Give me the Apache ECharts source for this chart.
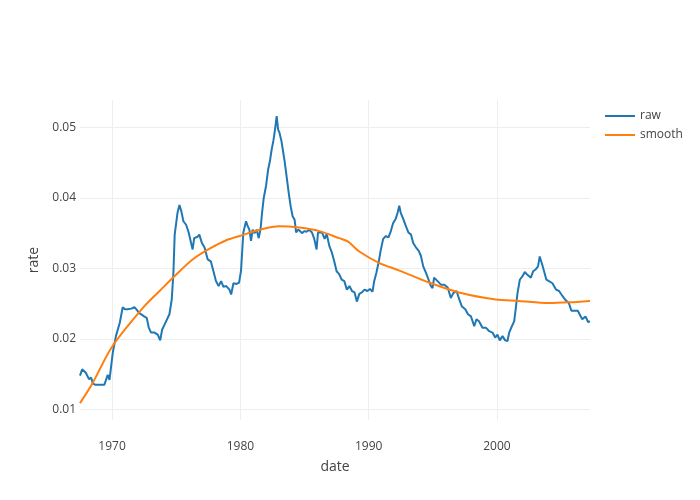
<!DOCTYPE html>
<html>
<head>
<meta charset="utf-8">
<script src="https://cdn.jsdelivr.net/npm/echarts@6/dist/echarts.min.js"></script>
<style>
  html, body { margin: 0; padding: 0; background: #fff; }
  #chart { width: 700px; height: 500px; }
</style>
</head>
<body>
<div id="chart"></div>
<script>
// unemployment rate, decimal year -> rate
var rawYear = [
  1967.50, 1967.67, 1967.95, 1968.20, 1968.37, 1968.50, 1968.70, 1969.00, 1969.40, 1969.66,
  1969.80, 1969.92, 1970.05, 1970.30, 1970.60, 1970.83, 1971.00, 1971.20, 1971.50, 1971.74,
  1971.90, 1972.10, 1972.50, 1972.70, 1972.86, 1973.04, 1973.30, 1973.56, 1973.75, 1973.90,
  1974.08, 1974.20, 1974.47, 1974.65, 1974.78, 1974.88, 1975.00, 1975.10, 1975.25, 1975.40,
  1975.56, 1975.77, 1975.97, 1976.16, 1976.28, 1976.40, 1976.67, 1976.80, 1977.00, 1977.20,
  1977.45, 1977.70, 1977.90, 1978.10, 1978.30, 1978.50, 1978.68, 1978.90, 1979.15, 1979.28,
  1979.46, 1979.70, 1979.90, 1980.05, 1980.23, 1980.44, 1980.57, 1980.70, 1980.83, 1980.96,
  1981.10, 1981.27, 1981.43, 1981.58, 1981.69, 1981.82, 1982.00, 1982.16, 1982.30, 1982.44,
  1982.57, 1982.70, 1982.83, 1982.94, 1983.04, 1983.20, 1983.35, 1983.45, 1983.60, 1983.77,
  1983.92, 1984.07, 1984.23, 1984.34, 1984.50, 1984.66, 1984.80, 1985.00, 1985.16, 1985.37,
  1985.58, 1985.76, 1985.94, 1986.05, 1986.20, 1986.37, 1986.57, 1986.73, 1986.93, 1987.14,
  1987.32, 1987.50, 1987.70, 1987.90, 1988.10, 1988.30, 1988.50, 1988.70, 1988.90, 1989.08,
  1989.27, 1989.47, 1989.68, 1989.90, 1990.10, 1990.30, 1990.43, 1990.60, 1990.77, 1990.95,
  1991.13, 1991.34, 1991.54, 1991.73, 1991.90, 1992.12, 1992.27, 1992.38, 1992.50, 1992.70,
  1992.90, 1993.10, 1993.30, 1993.47, 1993.68, 1993.90, 1994.07, 1994.25, 1994.46, 1994.67,
  1994.85, 1994.98, 1995.10, 1995.37, 1995.63, 1995.90, 1996.16, 1996.40, 1996.60, 1996.85,
  1997.06, 1997.27, 1997.53, 1997.74, 1997.97, 1998.23, 1998.40, 1998.60, 1998.87, 1999.13,
  1999.40, 1999.65, 1999.86, 2000.04, 2000.22, 2000.43, 2000.64, 2000.82, 2000.95, 2001.16,
  2001.34, 2001.47, 2001.60, 2001.78, 2001.99, 2002.17, 2002.37, 2002.64, 2002.82, 2003.03,
  2003.20, 2003.33, 2003.50, 2003.67, 2003.85, 2004.05, 2004.32, 2004.60, 2004.84, 2005.10,
  2005.30, 2005.60, 2005.80, 2006.10, 2006.30, 2006.50, 2006.65, 2006.90, 2007.10, 2007.25
];
var rawRate = [
  0.0148, 0.0157, 0.0152, 0.0143, 0.0145, 0.0137, 0.0135, 0.0135, 0.0135, 0.0149,
  0.0142, 0.0143, 0.0180, 0.0204, 0.0223, 0.0245, 0.0242, 0.0242, 0.0243, 0.0245,
  0.0242, 0.0237, 0.0232, 0.0230, 0.0216, 0.0209, 0.0209, 0.0206, 0.0198, 0.0213,
  0.0220, 0.0219, 0.0235, 0.0256, 0.0294, 0.0348, 0.0350, 0.0379, 0.0390, 0.0381,
  0.0367, 0.0362, 0.0351, 0.0336, 0.0327, 0.0343, 0.0345, 0.0348, 0.0336, 0.0330,
  0.0313, 0.0310, 0.0296, 0.0282, 0.0275, 0.0282, 0.0274, 0.0275, 0.0270, 0.0263,
  0.0279, 0.0278, 0.0280, 0.0297, 0.0351, 0.0367, 0.0360, 0.0355, 0.0339, 0.0355,
  0.0350, 0.0355, 0.0343, 0.0357, 0.0379, 0.0400, 0.0417, 0.0440, 0.0452, 0.0469,
  0.0481, 0.0497, 0.0516, 0.0497, 0.0493, 0.0481, 0.0479, 0.0452, 0.0431, 0.0407,
  0.0388, 0.0374, 0.0369, 0.0351, 0.0355, 0.0353, 0.0350, 0.0353, 0.0352, 0.0355,
  0.0351, 0.0342, 0.0327, 0.0351, 0.0353, 0.0351, 0.0342, 0.0349, 0.0332, 0.0322,
  0.0310, 0.0296, 0.0292, 0.0284, 0.0282, 0.0270, 0.0275, 0.0268, 0.0266, 0.0253,
  0.0264, 0.0266, 0.0270, 0.0268, 0.0271, 0.0267, 0.0282, 0.0294, 0.0308, 0.0327,
  0.0342, 0.0346, 0.0344, 0.0353, 0.0364, 0.0371, 0.0380, 0.0389, 0.0379, 0.0370,
  0.0360, 0.0351, 0.0348, 0.0336, 0.0330, 0.0325, 0.0318, 0.0303, 0.0294, 0.0284,
  0.0275, 0.0272, 0.0287, 0.0282, 0.0277, 0.0277, 0.0273, 0.0258, 0.0265, 0.0268,
  0.0256, 0.0246, 0.0242, 0.0235, 0.0232, 0.0218, 0.0228, 0.0225, 0.0216, 0.0216,
  0.0211, 0.0209, 0.0202, 0.0206, 0.0198, 0.0204, 0.0198, 0.0197, 0.0209, 0.0218,
  0.0225, 0.0244, 0.0265, 0.0284, 0.0289, 0.0295, 0.0291, 0.0287, 0.0296, 0.0299,
  0.0303, 0.0317, 0.0307, 0.0296, 0.0284, 0.0282, 0.0279, 0.0270, 0.0268, 0.0261,
  0.0256, 0.0251, 0.0240, 0.0240, 0.0240, 0.0233, 0.0228, 0.0232, 0.0224, 0.0225
];

var smoothYear = [
  1967.50, 1968.50, 1970.00, 1972.40, 1973.70, 1974.86, 1976.30, 1977.60, 1978.90, 1979.95,
  1981.50, 1983.04, 1984.60, 1986.16, 1987.70, 1988.40, 1989.27, 1990.80, 1992.40, 1994.70,
  1997.04, 1999.90, 2001.70, 2004.05, 2005.60, 2007.25
];
var smoothRate = [
  0.0109, 0.0138, 0.0189, 0.0244, 0.0268, 0.0289, 0.0313, 0.0328, 0.0340, 0.0346,
  0.0355, 0.0360, 0.0358, 0.0353, 0.0343, 0.0338, 0.0324, 0.0308, 0.0297, 0.0280,
  0.0266, 0.0256, 0.0254, 0.0251, 0.0252, 0.0254
];

var xTicks = [1970, 1980, 1990, 2000];
var yTicks = [0.01, 0.02, 0.03, 0.04, 0.05];

var chart = echarts.init(document.getElementById('chart'));

function zip(xs, ys) {
  return xs.map(function(x, i) { return [x, ys[i]]; });
}

chart.setOption({
  animation: false,
  textStyle: { fontFamily: 'Open Sans', color: '#444' },
  grid: { left: 80, right: 110, top: 100, bottom: 80, containLabel: false },
  legend: {
    orient: 'vertical',
    left: 600,
    top: 104,
    icon: 'rect',
    itemWidth: 30,
    itemHeight: 2,
    itemGap: 5,
    textStyle: { fontSize: 12, color: '#444', fontFamily: 'Open Sans', lineHeight: 14 },
    data: ['raw', 'smooth']
  },
  xAxis: {
    type: 'value',
    min: 1967.5,
    max: 2007.25,
    name: 'date',
    nameLocation: 'middle',
    nameGap: 40,
    nameTextStyle: { fontSize: 14, color: '#444' },
    axisLine: { show: false },
    axisTick: { show: false, customValues: xTicks },
    axisLabel: {
      customValues: xTicks,
      margin: 21,
      fontSize: 12,
      color: '#444',
      formatter: function(v) { return String(Math.round(v)) }
    },
    splitLine: { show: true, lineStyle: { color: '#eee', width: 1 } }
  },
  yAxis: {
    type: 'value',
    min: 0.0085,
    max: 0.0539,
    name: 'rate',
    nameLocation: 'middle',
    nameGap: 37,
    nameTextStyle: { fontSize: 14, color: '#444' },
    axisLine: { show: false },
    axisTick: { show: false, customValues: yTicks },
    axisLabel: {
      customValues: yTicks,
      margin: 4,
      fontSize: 12,
      color: '#444',
      formatter: function(v) { return v.toFixed(2) }
    },
    splitLine: { show: true, lineStyle: { color: '#eee', width: 1 } }
  },
  series: [
    {
      name: 'raw',
      type: 'line',
      symbol: 'none',
      data: zip(rawYear, rawRate),
      lineStyle: { color: '#1f77b4', width: 2 },
      itemStyle: { color: '#1f77b4' }
    },
    {
      name: 'smooth',
      type: 'line',
      symbol: 'none',
      smooth: 0.3,
      data: zip(smoothYear, smoothRate),
      lineStyle: { color: '#ff7f0e', width: 2 },
      itemStyle: { color: '#ff7f0e' }
    }
  ]
})
</script>
</body>
</html>
